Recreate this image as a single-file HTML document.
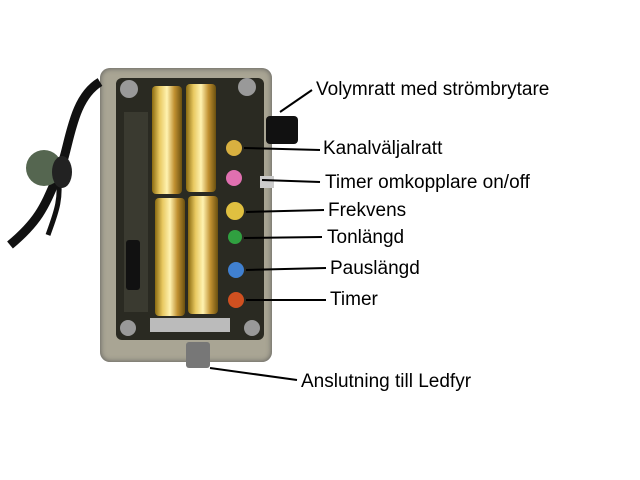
<!DOCTYPE html>
<html><head><meta charset="utf-8"><style>
html,body{margin:0;padding:0;background:#fff;}
#c{position:relative;width:640px;height:480px;overflow:hidden;background:#fff;font-family:"Liberation Sans",sans-serif;}
.t{position:absolute;font-size:19px;color:#000;white-space:nowrap;line-height:22px;}
.a{position:absolute;}
</style></head><body><div id="c">
<div class="a" style="left:100px;top:68px;width:172px;height:294px;background:#a9a594;border-radius:10px;box-shadow:inset 0 0 6px #555;"></div>
<div class="a" style="left:116px;top:78px;width:148px;height:262px;background:#2a2a22;border-radius:6px;"></div>
<div class="a" style="left:120px;top:80px;width:18px;height:18px;border-radius:50%;background:#999;"></div>
<div class="a" style="left:238px;top:78px;width:18px;height:18px;border-radius:50%;background:#999;"></div>
<div class="a" style="left:120px;top:320px;width:16px;height:16px;border-radius:50%;background:#999;"></div>
<div class="a" style="left:244px;top:320px;width:16px;height:16px;border-radius:50%;background:#999;"></div>
<div class="a" style="left:152px;top:86px;width:30px;height:108px;background:linear-gradient(90deg,#8a6a10,#e8c860,#fff2b0,#c09030,#6a5010);border-radius:4px;"></div>
<div class="a" style="left:186px;top:84px;width:30px;height:108px;background:linear-gradient(90deg,#8a6a10,#e8c860,#fff2b0,#c09030,#6a5010);border-radius:4px;"></div>
<div class="a" style="left:155px;top:198px;width:30px;height:118px;background:linear-gradient(90deg,#8a6a10,#e8c860,#fff2b0,#c09030,#6a5010);border-radius:4px;"></div>
<div class="a" style="left:188px;top:196px;width:30px;height:118px;background:linear-gradient(90deg,#8a6a10,#e8c860,#fff2b0,#c09030,#6a5010);border-radius:4px;"></div>
<div class="a" style="left:150px;top:318px;width:80px;height:14px;background:#bbb;"></div>
<div class="a" style="left:124px;top:112px;width:24px;height:200px;background:#3a3a30;"></div>
<div class="a" style="left:126px;top:240px;width:14px;height:50px;background:#111;border-radius:3px;"></div>
<div class="a" style="left:226px;top:140px;width:16px;height:16px;border-radius:50%;background:#d8b040;"></div>
<div class="a" style="left:226px;top:170px;width:16px;height:16px;border-radius:50%;background:#e070b0;"></div>
<div class="a" style="left:226px;top:202px;width:18px;height:18px;border-radius:50%;background:#e0c040;"></div>
<div class="a" style="left:228px;top:230px;width:14px;height:14px;border-radius:50%;background:#30a040;"></div>
<div class="a" style="left:228px;top:262px;width:16px;height:16px;border-radius:50%;background:#4080d0;"></div>
<div class="a" style="left:228px;top:292px;width:16px;height:16px;border-radius:50%;background:#d05020;"></div>
<div class="a" style="left:266px;top:116px;width:32px;height:28px;background:#111;border-radius:4px;"></div>
<div class="a" style="left:260px;top:176px;width:14px;height:12px;background:#ccc;"></div>
<div class="a" style="left:186px;top:342px;width:24px;height:26px;background:#777;border-radius:3px;"></div>
<svg class="a" style="left:0;top:0" width="640" height="480">
<path d="M100 82 C70 100 70 150 58 175 C45 205 40 220 10 245" stroke="#111" stroke-width="9" fill="none"/>
<path d="M58 175 C62 200 55 215 48 235" stroke="#111" stroke-width="5" fill="none"/>
<ellipse cx="44" cy="168" rx="18" ry="18" fill="#556650"/>
<ellipse cx="62" cy="172" rx="10" ry="16" fill="#222"/>
<g stroke="#000" stroke-width="2">
<line x1="280" y1="112" x2="312" y2="90"/>
<line x1="244" y1="148" x2="320" y2="150"/>
<line x1="262" y1="180" x2="320" y2="182"/>
<line x1="246" y1="212" x2="324" y2="210"/>
<line x1="244" y1="238" x2="322" y2="237"/>
<line x1="246" y1="270" x2="326" y2="268"/>
<line x1="246" y1="300" x2="326" y2="300"/>
<line x1="210" y1="368" x2="297" y2="380"/>
</g></svg>
<div class="t" style="left:316px;top:79px;">Volymratt med strömbrytare</div>
<div class="t" style="left:323px;top:138px;">Kanalväljalratt</div>
<div class="t" style="left:325px;top:172px;">Timer omkopplare on/off</div>
<div class="t" style="left:328px;top:200px;">Frekvens</div>
<div class="t" style="left:327px;top:227px;">Tonlängd</div>
<div class="t" style="left:330px;top:258px;">Pauslängd</div>
<div class="t" style="left:330px;top:289px;">Timer</div>
<div class="t" style="left:301px;top:371px;">Anslutning till Ledfyr</div>
</div></body></html>
